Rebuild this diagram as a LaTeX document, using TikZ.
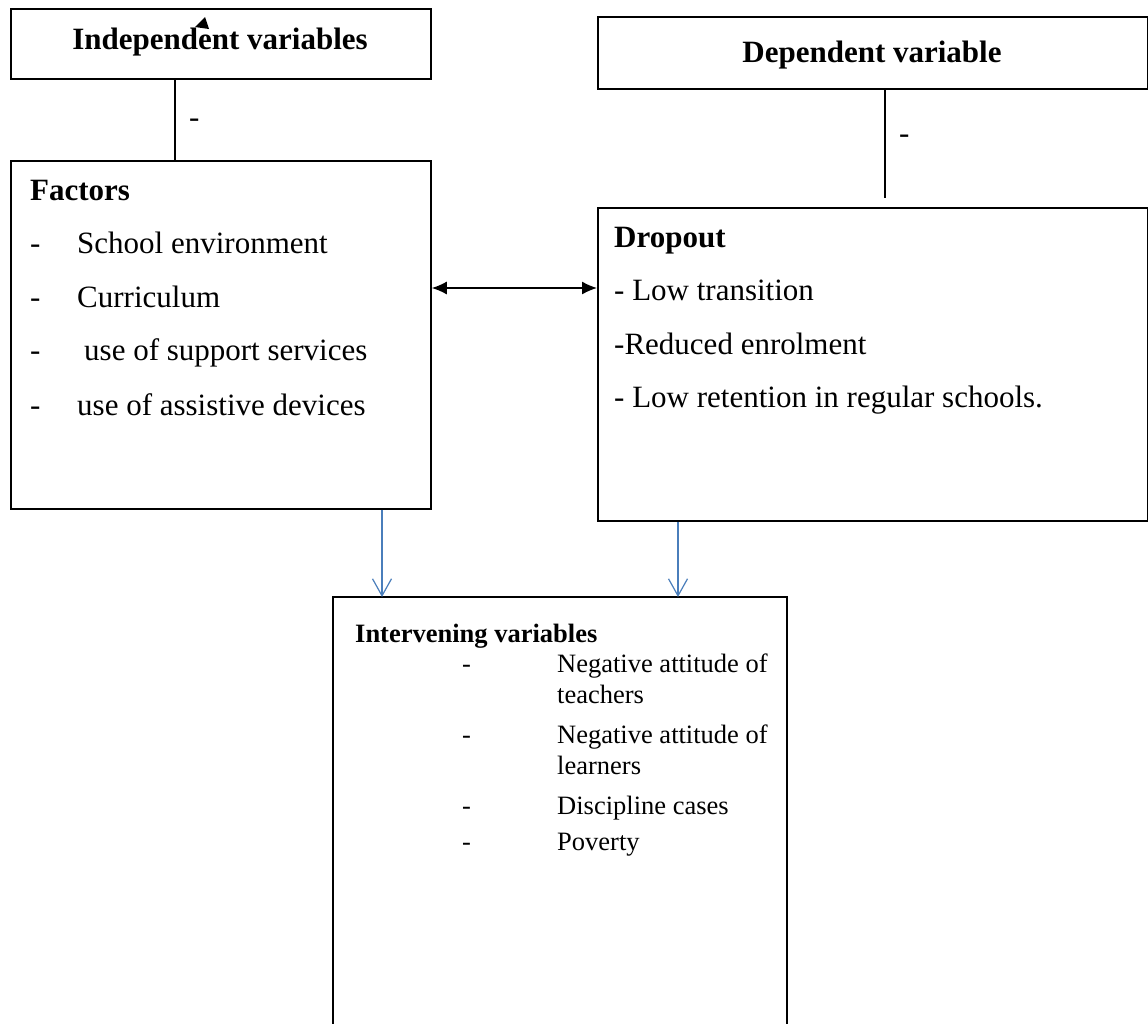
\documentclass[tikz,border=0pt]{standalone}
\usepackage{fontspec}
\setmainfont{Liberation Serif}
\usetikzlibrary{arrows.meta}
\definecolor{arrowblue}{HTML}{4A7EBB}
\begin{document}
\begin{tikzpicture}[x=1pt,y=-1pt,
  box/.style={draw=black,line width=1.8pt,rectangle,inner sep=0pt,anchor=north west},
  txt/.style={inner sep=0pt,anchor=base west,font=\fontsize{31}{35}\selectfont},
  itxt/.style={inner sep=0pt,anchor=base west,font=\fontsize{26.5}{30}\selectfont},
  head/.style={inner sep=0pt,anchor=base,font=\fontsize{31}{35}\selectfont\bfseries},
  conn/.style={draw=black,line width=1.3pt},
  blue/.style={draw=arrowblue,line width=1.2pt,-{Straight Barb[length=17pt,width=19pt,line width=1.2pt]}}]
\useasboundingbox (0,0) rectangle (1148,1023);
\fill[white] (0,0) rectangle (1148,1023);
% boxes
\node[box,minimum width=420pt,minimum height=70pt] (indep) at (10,8) {};
\node[box,minimum width=420pt,minimum height=348pt] (factors) at (10,160) {};
\node[box,minimum width=550pt,minimum height=72pt] (dep) at (597,16) {};
\node[box,minimum width=550pt,minimum height=313pt] (drop) at (597,207) {};
\node[box,draw=none,minimum width=452pt,minimum height=426pt] (inter) at (333,597) {};
\draw[line width=2pt] (inter.south west) -- (inter.north west) -- (inter.north east) -- (inter.south east);
% headings
\node[head] (hindep) at (220,49) {Independent variables};
\node[head] (hdep) at (872,62) {Dependent variable};
\fill (205,17) -- (195,27) -- (209,29) -- cycle;
% factors text
\node[txt] (ft) at (30,200) {\bfseries Factors};
\node[txt] (fd1) at (30,253) {-};
\node[txt] (f1) at (77,253) {School environment};
\node[txt] (fd2) at (30,307) {-};
\node[txt] (f2) at (77,307) {Curriculum};
\node[txt] (fd3) at (30,360) {-};
\node[txt] (f3) at (84,360) {use of support services};
\node[txt] (fd4) at (30,415) {-};
\node[txt] (f4) at (77,415) {use of assistive devices};
% dropout text
\node[txt] (dt) at (614,247) {\bfseries Dropout};
\node[txt] (d1) at (614,300) {- Low transition};
\node[txt] (d2) at (614,354) {-Reduced enrolment};
\node[txt] (d3) at (614,407) {- Low retention in regular schools.};
% intervening text
\node[itxt] (it) at (355,642) {\bfseries Intervening variables};
\node[itxt] (id1) at (462,672) {-};
\node[itxt] (i1) at (557,672) {Negative attitude of};
\node[itxt] (i1b) at (557,703) {teachers};
\node[itxt] (id2) at (462,743) {-};
\node[itxt] (i2) at (557,743) {Negative attitude of};
\node[itxt] (i2b) at (557,774) {learners};
\node[itxt] (id3) at (462,814) {-};
\node[itxt] (i3) at (557,814) {Discipline cases};
\node[itxt] (id4) at (462,850) {-};
\node[itxt] (i4) at (557,850) {Poverty};
% connectors
\coordinate (lx1) at (175,0);
\coordinate (lx2) at (885,0);
\coordinate (ay) at (0,288);
\coordinate (bx1) at (382,0);
\coordinate (bx2) at (678,0);
\coordinate (dend) at (885,198);
\draw[conn] (indep.south -| lx1) -- (factors.north -| lx1);
\node[txt] (m1) at (189,127) {-};
\draw[conn] (dep.south -| lx2) -- (dend);
\node[txt] (m2) at (899,143) {-};
\draw[conn,{Latex[length=15pt,width=13pt]}-{Latex[length=15pt,width=13pt]}] (factors.east |- ay) -- (drop.west |- ay);
\draw[blue] (factors.south -| bx1) -- (inter.north -| bx1);
\draw[blue] (drop.south -| bx2) -- (inter.north -| bx2);
\end{tikzpicture}
\end{document}
